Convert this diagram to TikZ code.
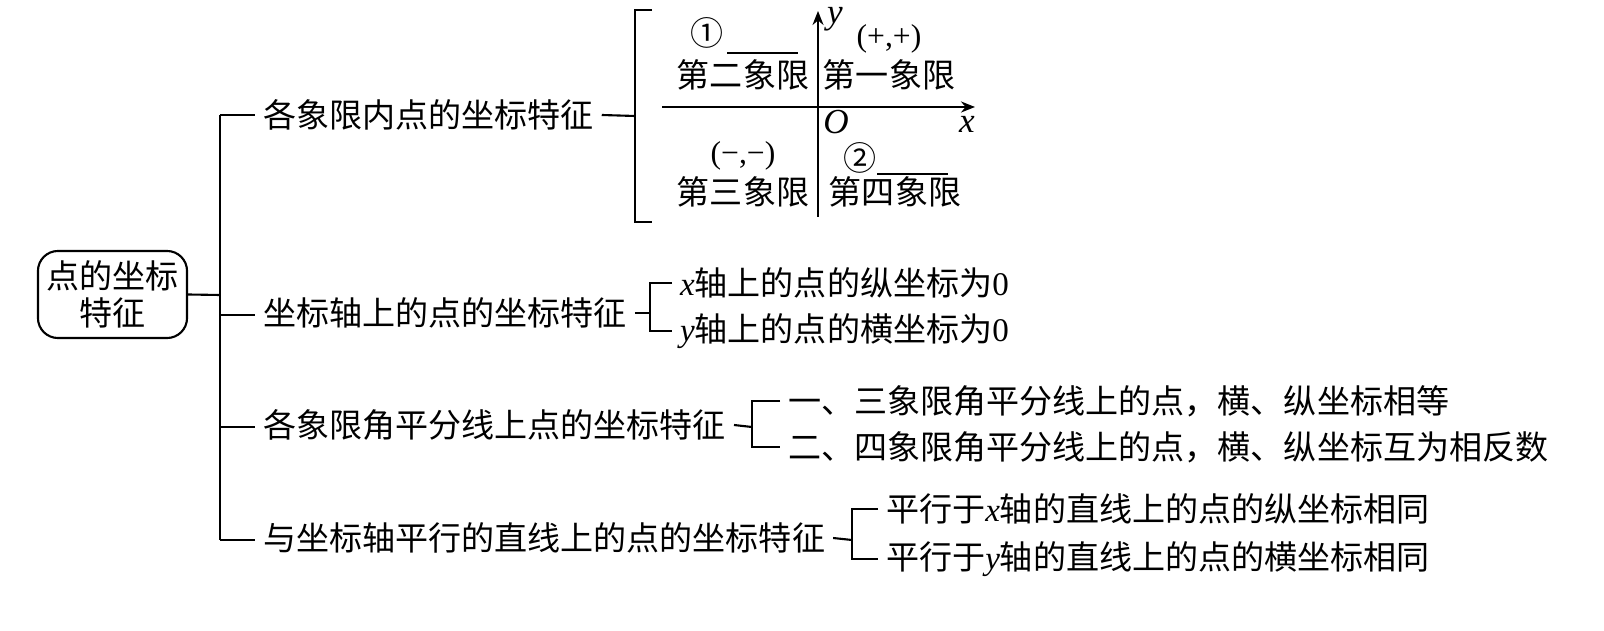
\documentclass[tikz,border=0pt]{standalone}
\usepackage{fontspec}
\setmainfont{Liberation Serif}
\newfontfamily\cjk{Noto Sans CJK SC}
\usetikzlibrary{arrows.meta}
\newcommand\itx[1]{{\rmfamily\itshape #1}}
\begin{document}
\begin{tikzpicture}[x=0.01cm,y=-0.01cm,line width=0.6pt,
  txt/.style={font=\cjk\fontsize{9.4}{10.6}\selectfont,inner sep=2pt},
  lbl/.style={txt,anchor=west},
  rootbox/.style={txt,draw,rounded corners=2mm,minimum width=1.49cm,minimum height=0.87cm,align=center},
  axis/.style={-{Stealth[length=1.4mm,width=1.1mm]}},
  lat/.style={font=\fontsize{10}{12}\selectfont\itshape,inner sep=0pt}]
\useasboundingbox (0,0) rectangle (1604,631);
% root
\node[rootbox] (root) at (112.5,294.5) {点的坐标\\特征};
\coordinate (t0) at (220,295);
\coordinate (t1) at (220,115);
\coordinate (t2) at (220,315);
\coordinate (t3) at (220,427);
\coordinate (t4) at (220,540);
\draw (root.east) -- (t0);
\draw (t1) -- (t4);
% branch texts
\node[lbl] (b1) at (255,115) {各象限内点的坐标特征};
\node[lbl] (b2) at (255,313) {坐标轴上的点的坐标特征};
\node[lbl] (b3) at (255,425) {各象限角平分线上点的坐标特征};
\node[lbl] (b4) at (255,538) {与坐标轴平行的直线上的点的坐标特征};
\draw (t1) -- (t1-|b1.west);
\draw (t2) -- (t2-|b2.west);
\draw (t3) -- (t3-|b3.west);
\draw (t4) -- (t4-|b4.west);
% bracket 1 and axes
\coordinate (k1) at (635,116);
\draw (b1.east) -- (k1);
\draw (652,10) -- (635,10) -- (635,222) -- (652,222);
\coordinate (xs) at (662,107);
\coordinate (xe) at (975,107);
\coordinate (ys) at (818,217);
\coordinate (ye) at (818,11);
\draw[axis] (xs) -- (xe);
\draw[axis] (ys) -- (ye);
\node[lat] (ly) at (835,19) {y};
\node[lat] (lx) at (967,124) {x};
\node[lat] (lo) at (836,122) {O};
\node[txt] (q2) at (743,75) {第二象限};
\node[txt] (q1) at (889,75) {第一象限};
\node[txt] (q3) at (743,192) {第三象限};
\node[txt] (q4) at (895,192) {第四象限};
\node[txt] (c1) at (707,33) {①};
\node[txt] (c2) at (860,158) {②};
\node[font=\fontsize{9}{11}\selectfont,inner sep=0pt] (s1) at (889,39) {(+,+)};
\node[font=\fontsize{9}{11}\selectfont,inner sep=0pt] (s3) at (743,156) {(−,−)};
\draw (727,53) -- (798,53);
\draw (877,174) -- (948,174);
% bracket 2
\coordinate (k2) at (650,313);
\node[lbl] (b21) at (672,283) {\itx{x}轴上的点的纵坐标为{\rmfamily 0}};
\node[lbl] (b22) at (672,331) {\itx{y}轴上的点的横坐标为{\rmfamily 0}};
\draw (b2.east) -- (k2);
\draw (b21.west) -| (k2) |- (b22.west);
% bracket 3
\coordinate (k3) at (752,427);
\node[lbl] (b31) at (780,401) {一、三象限角平分线上的点，横、纵坐标相等};
\node[lbl] (b32) at (780,447) {二、四象限角平分线上的点，横、纵坐标互为相反数};
\draw (b3.east) -- (k3);
\draw (b31.west) -| (k3) |- (b32.west);
% bracket 4
\coordinate (k4) at (852,540);
\node[lbl] (b41) at (878,509) {平行于\itx{x}轴的直线上的点的纵坐标相同};
\node[lbl] (b42) at (878,559) {平行于\itx{y}轴的直线上的点的横坐标相同};
\draw (b4.east) -- (k4);
\draw (b41.west) -| (k4) |- (b42.west);
\end{tikzpicture}
\end{document}
